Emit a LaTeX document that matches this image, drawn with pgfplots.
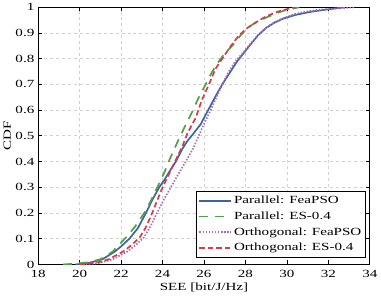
\documentclass[border=0pt]{standalone}
\usepackage{pgfplots}
\pgfplotsset{compat=1.18}
\usepackage{fontspec}
\setmainfont{Liberation Serif}[FakeStretch=1.38]
\definecolor{cblue}{RGB}{62,100,160}
\definecolor{cgreen}{RGB}{80,160,70}
\definecolor{cpurple}{RGB}{170,110,180}
\definecolor{cred}{RGB}{215,60,70}
\begin{document}
\fontsize{11}{13}\selectfont
\begin{tikzpicture}
\begin{axis}[
  scale only axis,
  width=334pt, height=259pt,
  xmin=18, xmax=34, ymin=0, ymax=1,
  xtick={18,20,...,34},
  ytick={0,0.1,...,1},
  yticklabels={0,0.1,0.2,0.3,0.4,0.5,0.6,0.7,0.8,0.9,1},
  /pgf/number format/assume math mode=true,
  tick align=inside,
  major tick length=4pt,
  tick style={black, line width=0.8pt},
  axis line style={black, line width=1.2pt},
  grid=major,
  major grid style={dash pattern=on 3pt off 3pt, gray!35, line width=0.8pt},
  xlabel={SEE [bit/J/Hz]},
  ylabel={CDF},
  xticklabel style={yshift=-2pt},
  xlabel style={yshift=2pt},
  ylabel style={yshift=-3pt},
  legend style={at={(0.988,0.027)}, anchor=south east, draw=black, line width=1pt, font=\fontsize{11}{13}\selectfont, row sep=2.5pt, inner xsep=2pt, inner ysep=2.5pt},
  legend cell align=left,
  legend image code/.code={\draw[#1] (0pt,0pt) -- (32pt,0pt);},
]
\addplot[cblue, line width=1.7pt] coordinates {
(19.8,0) (20.4,0.005) (21.1,0.02) (21.7,0.05) (22.0,0.07) (22.4,0.1) (22.8,0.14) (23.2,0.2) (23.5,0.25) (23.84,0.3) (24.1,0.33) (24.4,0.37) (24.64,0.40) (24.96,0.45) (25.2,0.48) (25.5,0.51) (25.84,0.545) (26.1,0.585) (26.4,0.63) (26.6,0.66) (26.88,0.70) (27.2,0.74) (27.6,0.79) (27.9,0.82) (28.24,0.855) (28.6,0.89) (29.0,0.92) (29.4,0.94) (29.8,0.955) (30.4,0.97) (31.2,0.983) (32,0.992) (32.8,1)
};
\addlegendentry{Parallel: FeaPSO}
\addplot[cgreen, line width=1.7pt, dash pattern=on 9pt off 7pt] coordinates {
(19.2,0) (19.8,0.003) (20.4,0.008) (21.0,0.02) (21.6,0.05) (22.0,0.085) (22.3,0.11) (22.7,0.15) (23.2,0.21) (23.45,0.25) (23.75,0.30) (24.1,0.36) (24.35,0.41) (24.8,0.49) (25.1,0.54) (25.44,0.595) (25.75,0.65) (26.08,0.70) (26.4,0.75) (26.72,0.79) (27.0,0.82) (27.36,0.85) (27.76,0.89) (28.1,0.92) (28.48,0.94) (29.0,0.96) (29.6,0.98) (30.0,0.99) (30.6,1)
};
\addlegendentry{Parallel: ES-0.4}
\addplot[cpurple, line width=1.7pt, dash pattern=on 1.5pt off 1.6pt] coordinates {
(20.3,0) (20.9,0.005) (21.6,0.02) (22.3,0.05) (22.7,0.075) (23.1,0.105) (23.4,0.145) (23.7,0.195) (24.05,0.25) (24.4,0.3) (24.75,0.35) (25.12,0.40) (25.47,0.45) (25.8,0.51) (26.05,0.555) (26.32,0.6) (26.6,0.65) (26.88,0.70) (27.2,0.75) (27.52,0.79) (27.85,0.82) (28.16,0.85) (28.64,0.895) (29.0,0.92) (29.4,0.942) (29.9,0.96) (30.39,0.974) (31.0,0.984) (31.5,0.99) (32.5,0.996) (33.3,1)
};
\addlegendentry{Orthogonal: FeaPSO}
\addplot[cred, line width=1.7pt, dash pattern=on 5.5pt off 3pt] coordinates {
(20.0,0) (20.5,0.004) (21.0,0.01) (21.4,0.02) (22.1,0.05) (22.5,0.075) (22.9,0.105) (23.2,0.145) (23.45,0.19) (23.7,0.24) (23.95,0.29) (24.3,0.35) (24.6,0.40) (24.96,0.46) (25.2,0.51) (25.6,0.57) (25.9,0.64) (26.24,0.70) (26.55,0.76) (26.88,0.80) (27.3,0.85) (27.68,0.89) (28.1,0.92) (28.48,0.94) (29.0,0.965) (29.6,0.984) (30.07,0.994) (30.4,1)
};
\addlegendentry{Orthogonal: ES-0.4}
\end{axis}
\end{tikzpicture}
\end{document}
